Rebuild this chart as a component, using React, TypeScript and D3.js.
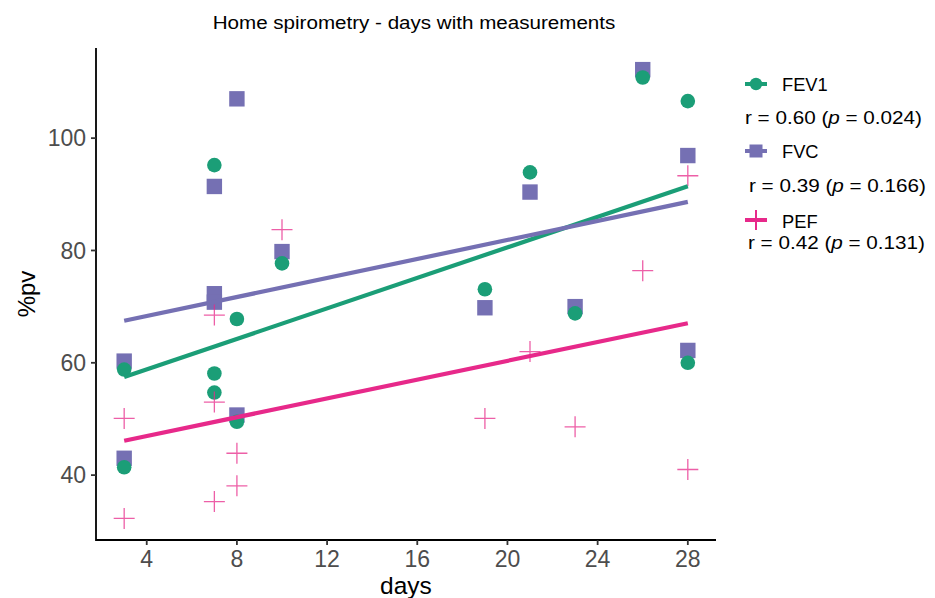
import React from 'react'
import * as d3 from 'd3'

// days with measurements (same days for each parameter)
const days = [3, 3, 7, 7, 7, 8, 8, 10, 19, 21, 23, 26, 28, 28]
const fev1 = [58.8, 41.4, 95.2, 58.1, 54.7, 67.8, 49.5, 77.7, 73.1, 93.9, 68.8, 110.8, 106.6, 60.0]
const fvc = [60.3, 43.0, 91.4, 72.3, 70.8, 107.0, 50.7, 79.8, 69.8, 90.4, 70.0, 112.2, 96.9, 62.2]
const pef = [50.1, 32.3, 68.5, 53.0, 35.3, 43.9, 38.1, 83.7, 50.1, 62.0, 48.6, 76.4, 93.3, 41.0]

const seriesNames = ['FEV1', 'FVC', 'PEF']
const seriesStats = ['r = 0.60 (', 'r = 0.39 (', 'r = 0.42 (']
const seriesP = ['0.024', '0.166', '0.131']
const xTicks = [4, 8, 12, 16, 20, 24, 28]
const yTicks = [40, 60, 80, 100]

const GREEN = '#1B9E77'
const PURPLE = '#7570B3'
const PINK = '#E7298A'
const FONT = '"Liberation Sans", Arial, Helvetica, sans-serif'

// simple least squares fit, like geom_smooth(method = 'lm')
function fit(xs: number[], ys: number[]) {
  const mx = d3.mean(xs) as number
  const my = d3.mean(ys) as number
  let sxy = 0
  let sxx = 0
  xs.forEach((x, i) => {
    sxy += (x - mx) * (ys[i] - my)
    sxx += (x - mx) * (x - mx)
  })
  const b = sxy / sxx
  return (x: number) => my + b * (x - mx)
}

export default function App() {
  const left = 96
  const right = 716
  const top = 48
  const bottom = 540

  const x = d3.scaleLinear().domain([1.75, 29.25]).range([left, right])
  const y = d3.scaleLinear().domain([28.45, 116.05]).range([bottom, top])

  const xr = d3.extent(days) as [number, number]
  const line = d3.line<number>().x(d => x(d))
  const fitLine = (vals: number[]) => {
    const f = fit(days, vals)
    return line.y(d => y(f(d)))(xr) as string
  }

  const plus = (cx: number, cy: number, h: number) =>
    `M${cx - h},${cy}H${cx + h}M${cx},${cy - h}V${cy + h}`

  // legend rows
  const legendY = [84, 151, 220]
  const nameBase = [91, 158, 228]
  const statBase = [124, 192, 249]
  const statX = [745, 749, 748]

  return (
    <svg
      width={935}
      height={598}
      style={{ position: 'absolute', left: 0, top: 0, background: '#fff' }}
      fontFamily={FONT}
    >
      <rect width={935} height={598} fill="#fff" />

      {/* title (the original font is a bit wider) */}
      <text
        transform="translate(414,29) scale(1.09,1)"
        textAnchor="middle"
        fontSize={18.9}
        fill="#000"
      >
        Home spirometry - days with measurements
      </text>

      {/* points */}
      <g>
        {fvc.map((v, i) => (
          <rect
            key={'s' + i}
            x={x(days[i]) - 7.7}
            y={y(v) - 7.7}
            width={15.4}
            height={15.4}
            fill={PURPLE}
          />
        ))}
        {fev1.map((v, i) => (
          <circle key={'c' + i} cx={x(days[i])} cy={y(v)} r={7.3} fill={GREEN} />
        ))}
        {pef.map((v, i) => (
          <path
            key={'p' + i}
            d={plus(x(days[i]), y(v), 10.5)}
            stroke={PINK}
            strokeOpacity={0.75}
            strokeWidth={1.3}
            fill="none"
          />
        ))}
      </g>

      {/* regression lines */}
      <path d={fitLine(fev1)} stroke={GREEN} strokeWidth={4.2} fill="none" />
      <path d={fitLine(fvc)} stroke={PURPLE} strokeWidth={4.2} fill="none" />
      <path d={fitLine(pef)} stroke={PINK} strokeWidth={4.2} fill="none" />

      {/* axes */}
      <path
        d={`M${left},${top}V${bottom}H${right}`}
        stroke="#000"
        strokeWidth={1.8}
        fill="none"
      />
      {xTicks.map(t => (
        <g key={'x' + t}>
          <line x1={x(t)} x2={x(t)} y1={bottom} y2={bottom + 5} stroke="#333" strokeWidth={1.8} />
          <text x={x(t)} y={567} textAnchor="middle" fontSize={23} fill="#4D4D4D">
            {t}
          </text>
        </g>
      ))}
      {yTicks.map(t => (
        <g key={'y' + t}>
          <line x1={left - 5} x2={left} y1={y(t)} y2={y(t)} stroke="#333" strokeWidth={1.8} />
          <text
            x={86}
            y={y(t)}
            dy="0.36em"
            textAnchor="end"
            fontSize={23}
            fill="#4D4D4D"
          >
            {t}
          </text>
        </g>
      ))}

      {/* axis titles */}
      <text x={(left + right) / 2} y={594} textAnchor="middle" fontSize={24.5} fill="#000">
        days
      </text>
      <text
        transform={`translate(35,${(top + bottom) / 2}) rotate(-90)`}
        textAnchor="middle"
        fontSize={24}
        fill="#000"
      >
        %pv
      </text>

      {/* legend */}
      {seriesNames.map((name, i) => {
        const col = [GREEN, PURPLE, PINK][i]
        const ky = legendY[i]
        return (
          <g key={name}>
            <line x1={745} x2={767} y1={ky} y2={ky} stroke={col} strokeWidth={4} />
            {i === 0 && <circle cx={756} cy={ky} r={6.2} fill={col} />}
            {i === 1 && <rect x={749.5} y={ky - 6.5} width={13} height={13} fill={col} />}
            {i === 2 && (
              <line x1={756} x2={756} y1={ky - 10} y2={ky + 10} stroke={col} strokeWidth={2} />
            )}
            <text x={782} y={nameBase[i]} fontSize={18.3} fill="#000">
              {name}
            </text>
            <text
              transform={`translate(${statX[i]},${statBase[i]}) scale(1.1,1)`}
              fontSize={18.8}
              fill="#000"
            >
              {seriesStats[i]}
              <tspan fontStyle="italic">p</tspan>
              {' = ' + seriesP[i] + ')'}
            </text>
          </g>
        )
      })}
    </svg>
  )
}
